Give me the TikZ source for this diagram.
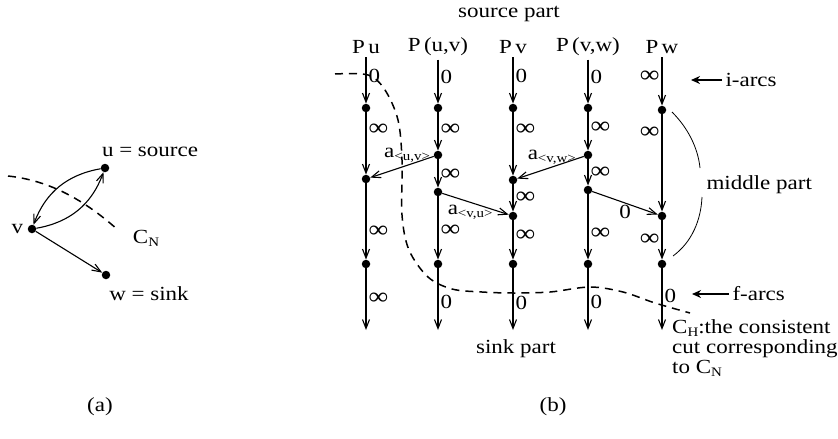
\documentclass[tikz,border=0pt]{standalone}
\usepackage{fontspec}
\setmainfont{Liberation Serif}[FakeStretch=1.15]
\usepackage{tikz}
\usetikzlibrary{arrows.meta, positioning}

\newcommand{\lowsub}[1]{\raisebox{-3pt}{\fontsize{13}{13}\selectfont #1}}
\newcommand{\infsym}{{\fontsize{24}{24}\selectfont ∞}}

\begin{document}
\begin{tikzpicture}[
        x=1pt, y=-1pt,
        font=\fontsize{20}{20}\selectfont,
        dot/.style={circle, fill=black, inner sep=0pt, minimum size=8.5pt},
        arc/.style={-{Straight Barb[length=9pt,width=7pt]}, line width=1.1pt},
        lab/.style={inner sep=2pt, font=\fontsize{20}{20}\selectfont},
        cut/.style={dash pattern=on 8pt off 6pt, line width=1.5pt},
        fat/.style={-{Stealth[length=9pt,width=8pt]}, line width=2.2pt}
    ]
        \useasboundingbox (0,0) rectangle (838,439);

        % (a) the network N
        \node[dot] (u) at (105,168) {};
        \node[dot] (v) at (32,229) {};
        \node[dot] (w) at (106,275) {};
        \node[left=1pt of v] (vlab) {v};
        \node (ulab) at (150,152) {u = source};
        \node (wlab) at (149,294) {w = sink};
        \node (cn) at (146,238) {C\lowsub{N}};
        \draw[arc] (u) to[bend right=30] (v);
        \draw[arc] (v) to[bend right=30] (u);
        \draw[arc] (v) -- (w);
        \coordinate (cn1) at (8,176);
        \coordinate (cn2) at (118,230);
        \draw[cut] (cn1) .. controls (45,180) and (80,196) .. (cn2);
        \node (capa) at (100,407) {(a)};

        % (b) the graph H
        \node (src) at (509,14) {source part};
        \node (snk) at (516,349) {sink part};
        \node (hpu) at (366,47) {P\,u};
        \node (hpuv) at (438,47) {P\,(u,v)};
        \node (hpv) at (513,47) {P\,v};
        \node (hpvw) at (588,47) {P\,(v,w)};
        \node (hpw) at (662,47) {P\,w};

        % column P u
        \node[dot] (pu1) at (366,108) {};
        \node[dot] (pu2) at (366,179) {};
        \node[dot] (pu3) at (366,264) {};
        \coordinate (pu4) at (366,330);
        \draw[arc] (hpu) -- node[lab, right, pos=.4] {0} (pu1);
        \draw[arc] (pu1) -- node[lab, right, pos=.28] {\infsym} (pu2);
        \draw[arc] (pu2) -- node[lab, right, pos=.64] {\infsym} (pu3);
        \draw[arc] (pu3) -- node[lab, right, pos=.5] {\infsym} (pu4);

        % column P (u,v)
        \node[dot] (puv1) at (438,108) {};
        \node[dot] (puv2) at (438,155) {};
        \node[dot] (puv3) at (438,192) {};
        \node[dot] (puv4) at (438,264) {};
        \coordinate (puv5) at (438,330);
        \draw[arc] (hpuv) -- node[lab, right, pos=.4] {0} (puv1);
        \draw[arc] (puv1) -- node[lab, right, pos=.45] {\infsym} (puv2);
        \draw[arc] (puv2) -- node[lab, right, pos=.55] {\infsym} (puv3);
        \draw[arc] (puv3) -- node[lab, right, pos=.55] {\infsym} (puv4);
        \draw[arc] (puv4) -- node[lab, right, pos=.55] {0} (puv5);

        % column P v
        \node[dot] (pv1) at (513,108) {};
        \node[dot] (pv2) at (513,180) {};
        \node[dot] (pv3) at (513,216) {};
        \node[dot] (pv4) at (513,264) {};
        \coordinate (pv5) at (513,330);
        \draw[arc] (hpv) -- node[lab, right, pos=.4] {0} (pv1);
        \draw[arc] (pv1) -- node[lab, right, pos=.28] {\infsym} (pv2);
        \draw[arc] (pv2) -- node[lab, right, pos=.5] {\infsym} (pv3);
        \draw[arc] (pv3) -- node[lab, right, pos=.4] {\infsym} (pv4);
        \draw[arc] (pv4) -- node[lab, right, pos=.56] {0} (pv5);

        % column P (v,w)
        \node[dot] (pvw1) at (588,108) {};
        \node[dot] (pvw2) at (588,155) {};
        \node[dot] (pvw3) at (588,190) {};
        \node[dot] (pvw4) at (588,264) {};
        \coordinate (pvw5) at (588,330);
        \draw[arc] (hpvw) -- node[lab, right, pos=.4] {0} (pvw1);
        \draw[arc] (pvw1) -- node[lab, right, pos=.4] {\infsym} (pvw2);
        \draw[arc] (pvw2) -- node[lab, right, pos=.5] {\infsym} (pvw3);
        \draw[arc] (pvw3) -- node[lab, right, pos=.6] {\infsym} (pvw4);
        \draw[arc] (pvw4) -- node[lab, right, pos=.55] {0} (pvw5);

        % column P w
        \node[dot] (pw1) at (662,110) {};
        \node[dot] (pw2) at (662,216) {};
        \node[dot] (pw3) at (662,264) {};
        \coordinate (pw4) at (662,330);
        \draw[arc] (hpw) -- node[lab, left, pos=.4] {\infsym} (pw1);
        \draw[arc] (pw1) -- node[lab, left, pos=.19] {\infsym} (pw2);
        \draw[arc] (pw2) -- node[lab, left, pos=.5] {\infsym} (pw3);
        \draw[arc] (pw3) -- node[lab, right, pos=.45] {0} (pw4);

        % arcs between the columns
        \draw[arc] (puv2) -- node[lab, above, pos=.42] {a\lowsub{<u,v>}} (pu2);
        \draw[arc] (pvw2) -- node[lab, above, pos=.48] {a\lowsub{<v,w>}} (pv2);
        \draw[arc] (puv3) -- node[lab, below, pos=.42] {a\lowsub{<v,u>}} (pv3);
        \draw[arc] (pvw3) -- node[lab, below, pos=.5] {0} (pw2);

        % the cut C_H
        \draw[cut] plot[smooth, tension=.55] coordinates {(335,74) (368,75) (385,90) (398,120) (402,160) (402,215) (409,250) (428,277) (452,289) (482,292) (513,293) (550,292) (590,287) (623,292) (655,303) (690,313)};

        % annotations
        \node[anchor=west] (iarcs) at (722,80) {i-arcs};
        \coordinate (itip) at (691,80);
        \draw[fat] (iarcs.west) -- (itip);
        \node[anchor=west] (farcs) at (729,294) {f-arcs};
        \coordinate (ftip) at (692,294);
        \draw[fat] (farcs.west) -- (ftip);
        \node[anchor=west] (mid) at (703,185) {middle part};
        \coordinate (m1) at (672,112);
        \coordinate (m2) at (700,168);
        \coordinate (m3) at (702,197);
        \coordinate (m4) at (673,256);
        \draw[line width=.8pt] (m1) .. controls (688,128) and (698,148) .. (m2);
        \draw[line width=.8pt] (m3) .. controls (701,220) and (692,242) .. (m4);
        \node[anchor=north west, align=left, inner sep=0pt] (chlab) at (672,319)
            {C\lowsub{H}:the consistent\\cut corresponding\\to C\lowsub{N}};
        \node (capb) at (553,407) {(b)};
    \end{tikzpicture}
\end{document}
